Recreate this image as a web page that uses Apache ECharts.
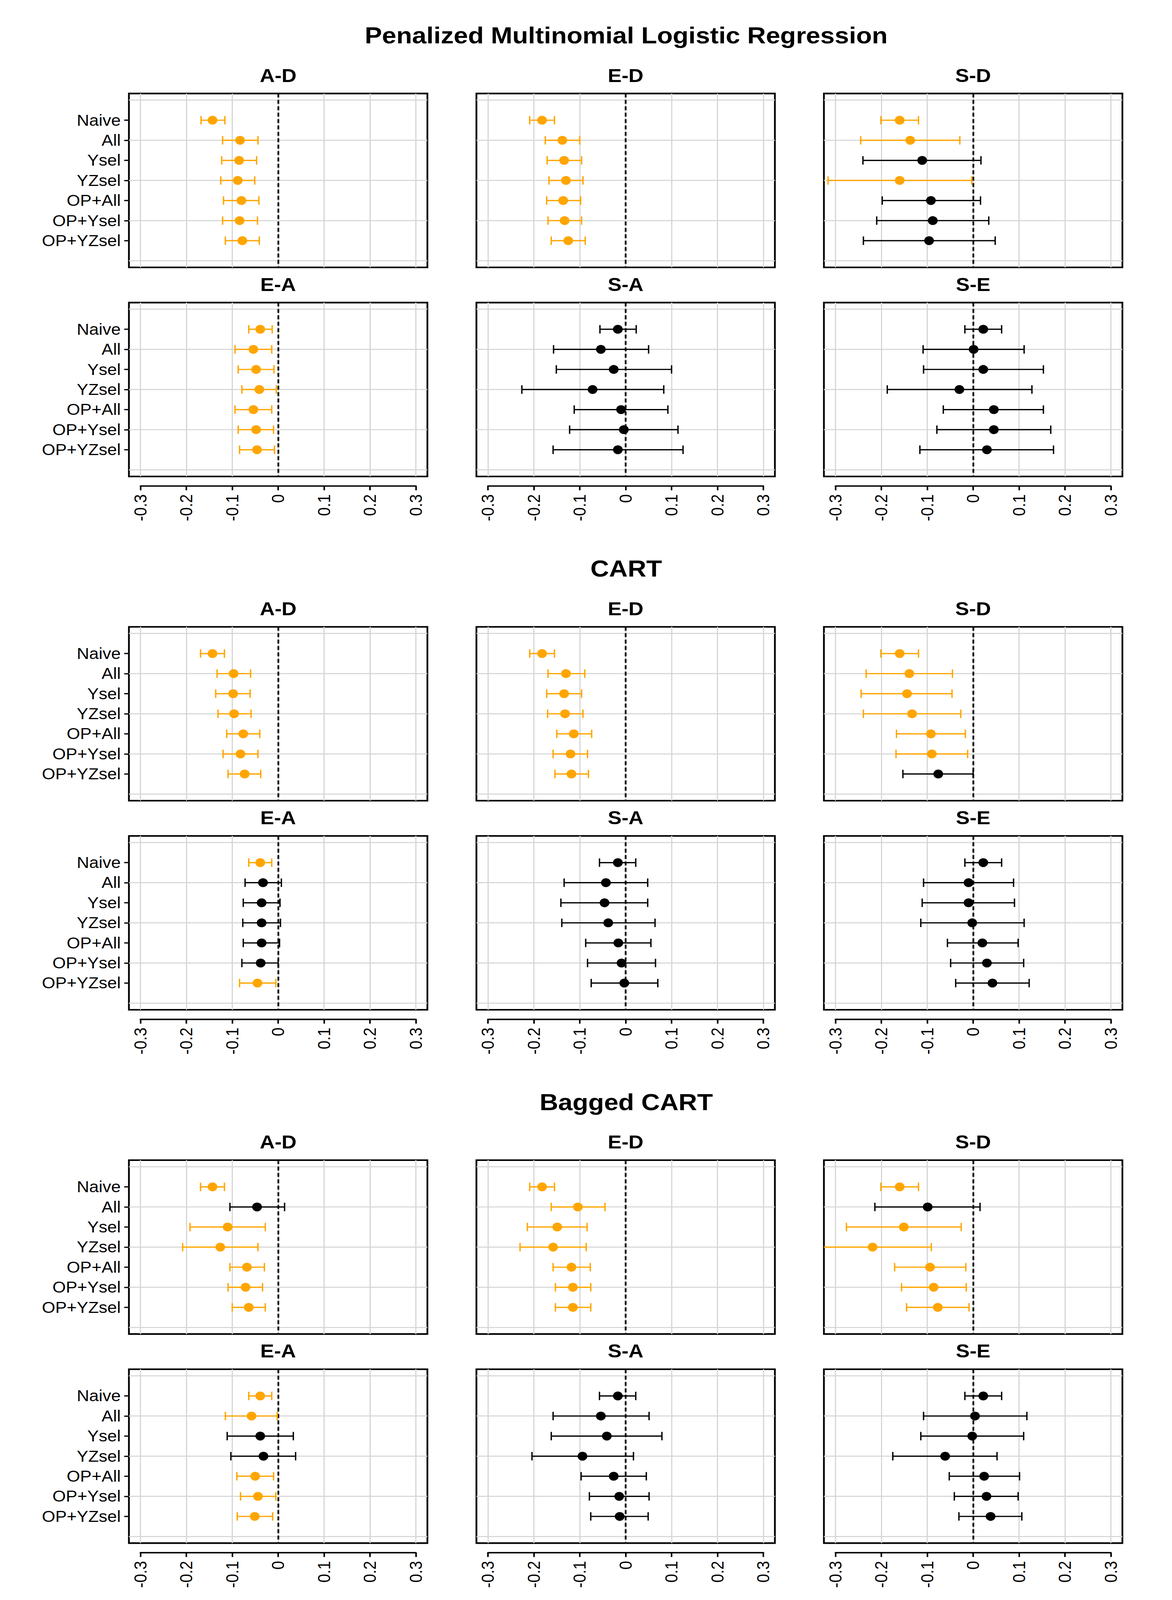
<!DOCTYPE html>
<html>
<head>
<meta charset="utf-8">
<title>Estimator comparison</title>
<script src="https://cdn.jsdelivr.net/npm/echarts@6/dist/echarts.min.js"></script>
<style>
  html, body { margin: 0; padding: 0; background: #fff; overflow: hidden; }
  #main { width: 3000px; height: 4500px; transform-origin: 0 0; }
</style>
</head>
<body>
<div id="main"></div>
<script>
// categories
var methods = ['Penalized Multinomial Logistic Regression', 'CART', 'Bagged CART'];
var contrasts = ['A-D', 'E-D', 'S-D', 'E-A', 'S-A', 'S-E'];
var estimators = ['Naive', 'All', 'Ysel', 'YZsel', 'OP+All', 'OP+Ysel', 'OP+YZsel'];
var xTicks = [-0.3, -0.2, -0.1, 0, 0.1, 0.2, 0.3];
var yGrid = [0, 2, 4, 6, 8];

// rows: [lower, estimate, upper, significant]
// Penalized multinomial logistic regression
var pmlAD = [[-0.168,-0.143,-0.116,1],[-0.121,-0.083,-0.044,1],[-0.123,-0.085,-0.047,1],[-0.125,-0.088,-0.051,1],[-0.119,-0.080,-0.042,1],[-0.121,-0.084,-0.045,1],[-0.115,-0.078,-0.041,1]];
var pmlED = [[-0.209,-0.182,-0.155,1],[-0.175,-0.138,-0.100,1],[-0.171,-0.134,-0.096,1],[-0.167,-0.130,-0.093,1],[-0.172,-0.136,-0.098,1],[-0.169,-0.133,-0.096,1],[-0.162,-0.125,-0.088,1]];
var pmlSD = [[-0.201,-0.160,-0.119,1],[-0.245,-0.137,-0.029,1],[-0.240,-0.111,0.017,0],[-0.316,-0.160,-0.003,1],[-0.198,-0.092,0.016,0],[-0.210,-0.088,0.034,0],[-0.239,-0.096,0.048,0]];
var pmlEA = [[-0.064,-0.039,-0.013,1],[-0.094,-0.054,-0.014,1],[-0.087,-0.048,-0.009,1],[-0.079,-0.041,-0.004,1],[-0.094,-0.054,-0.014,1],[-0.087,-0.048,-0.010,1],[-0.084,-0.046,-0.008,1]];
var pmlSA = [[-0.056,-0.017,0.023,0],[-0.157,-0.054,0.050,0],[-0.151,-0.026,0.100,0],[-0.226,-0.072,0.083,0],[-0.112,-0.010,0.092,0],[-0.122,-0.004,0.114,0],[-0.158,-0.017,0.125,0]];
var pmlSE = [[-0.018,0.022,0.062,0],[-0.109,0.001,0.111,0],[-0.108,0.022,0.153,0],[-0.187,-0.030,0.128,0],[-0.065,0.045,0.153,0],[-0.079,0.045,0.169,0],[-0.116,0.030,0.175,0]];
// CART
var cartAD = [[-0.169,-0.143,-0.117,1],[-0.133,-0.097,-0.060,1],[-0.136,-0.098,-0.061,1],[-0.131,-0.096,-0.059,1],[-0.112,-0.076,-0.040,1],[-0.120,-0.082,-0.044,1],[-0.109,-0.073,-0.038,1]];
var cartED = [[-0.209,-0.182,-0.155,1],[-0.169,-0.130,-0.089,1],[-0.172,-0.134,-0.096,1],[-0.170,-0.132,-0.093,1],[-0.150,-0.113,-0.074,1],[-0.158,-0.120,-0.083,1],[-0.154,-0.118,-0.081,1]];
var cartSD = [[-0.201,-0.160,-0.119,1],[-0.233,-0.139,-0.045,1],[-0.244,-0.144,-0.046,1],[-0.239,-0.133,-0.027,1],[-0.167,-0.092,-0.017,1],[-0.168,-0.090,-0.012,1],[-0.153,-0.076,0.000,0]];
var cartEA = [[-0.064,-0.039,-0.014,1],[-0.072,-0.033,0.007,0],[-0.076,-0.036,0.004,0],[-0.077,-0.036,0.005,0],[-0.076,-0.036,0.003,0],[-0.079,-0.038,0.000,0],[-0.084,-0.045,-0.005,1]];
var cartSA = [[-0.057,-0.017,0.022,0],[-0.134,-0.043,0.048,0],[-0.141,-0.046,0.048,0],[-0.139,-0.038,0.064,0],[-0.087,-0.016,0.055,0],[-0.083,-0.009,0.065,0],[-0.075,-0.003,0.070,0]];
var cartSE = [[-0.018,0.022,0.062,0],[-0.108,-0.010,0.088,0],[-0.111,-0.010,0.090,0],[-0.114,-0.002,0.111,0],[-0.056,0.020,0.098,0],[-0.049,0.030,0.110,0],[-0.038,0.042,0.122,0]];
// Bagged CART
var bagAD = [[-0.169,-0.143,-0.117,1],[-0.105,-0.046,0.014,0],[-0.192,-0.110,-0.028,1],[-0.208,-0.126,-0.044,1],[-0.105,-0.068,-0.030,1],[-0.109,-0.071,-0.034,1],[-0.100,-0.064,-0.028,1]];
var bagED = [[-0.209,-0.182,-0.155,1],[-0.162,-0.104,-0.045,1],[-0.214,-0.149,-0.084,1],[-0.230,-0.158,-0.086,1],[-0.158,-0.118,-0.077,1],[-0.153,-0.115,-0.076,1],[-0.153,-0.115,-0.076,1]];
var bagSD = [[-0.201,-0.160,-0.119,1],[-0.214,-0.099,0.015,0],[-0.276,-0.151,-0.026,1],[-0.350,-0.219,-0.091,1],[-0.171,-0.094,-0.016,1],[-0.156,-0.086,-0.015,1],[-0.145,-0.077,-0.009,1]];
var bagEA = [[-0.064,-0.039,-0.014,1],[-0.115,-0.058,-0.002,1],[-0.111,-0.039,0.033,0],[-0.103,-0.032,0.038,0],[-0.090,-0.050,-0.010,1],[-0.082,-0.044,-0.005,1],[-0.089,-0.051,-0.012,1]];
var bagSA = [[-0.057,-0.017,0.022,0],[-0.158,-0.054,0.051,0],[-0.162,-0.041,0.079,0],[-0.204,-0.094,0.017,0],[-0.097,-0.026,0.045,0],[-0.079,-0.014,0.051,0],[-0.076,-0.013,0.049,0]];
var bagSE = [[-0.018,0.022,0.062,0],[-0.108,0.004,0.117,0],[-0.114,-0.002,0.110,0],[-0.175,-0.061,0.052,0],[-0.052,0.024,0.101,0],[-0.041,0.029,0.098,0],[-0.031,0.038,0.106,0]];

var panelData = [
    [pmlAD, pmlED, pmlSD, pmlEA, pmlSA, pmlSE],
    [cartAD, cartED, cartSD, cartEA, cartSA, cartSE],
    [bagAD, bagED, bagSD, bagEA, bagSA, bagSE]
];

// layout
var FONT = "'Liberation Sans', Arial, Helvetica, sans-serif";
var ORANGE = '#FFA500';
var colLeft = [330, 1219.5, 2109];
var panelW = 764;
var rowTop = [263, 851];
var panelH = 489;
var secStep = 1500;
var axisLineY = 1367;
var xMin = -0.325, xMax = 0.325;

function tickText(v) {
    return String(Math.round(v * 10) / 10);
}

function errorBar(params, api) {
    var y = api.value(2);
    var lo = api.coord([api.value(0), y]);
    var hi = api.coord([api.value(1), y]);
    var c1 = api.coord([api.value(0), y - 0.21])[1];
    var c2 = api.coord([api.value(0), y + 0.21])[1];
    var color = api.value(3) ? ORANGE : '#000';
    var st = { stroke: color, lineWidth: 3.5 };
    return {
        type: 'group',
        children: [
            { type: 'line', shape: { x1: lo[0], y1: lo[1], x2: hi[0], y2: hi[1] }, style: st },
            { type: 'line', shape: { x1: lo[0], y1: c1, x2: lo[0], y2: c2 }, style: st },
            { type: 'line', shape: { x1: hi[0], y1: c1, x2: hi[0], y2: c2 }, style: st }
        ]
    };
}

var grids = [], xAxes = [], yAxes = [], series = [], texts = [];

methods.forEach(function (name, s) {
    var off = s * secStep;
    texts.push({
        type: 'text',
        style: { x: 1603, y: 99 + off, text: name, font: 'bold 66px ' + FONT,
                 fill: '#000', textAlign: 'center', textVerticalAlign: 'middle' }
    });

    contrasts.forEach(function (ct, p) {
        var r = Math.floor(p / 3), c = p % 3;
        var g = grids.length;
        var top = rowTop[r] + off;
        grids.push({
            left: colLeft[c], top: top, width: panelW, height: panelH,
            show: true, borderColor: '#000', borderWidth: 4.5, backgroundColor: '#fff'
        });
        xAxes.push({
            gridIndex: g, type: 'value', min: xMin, max: xMax,
            axisLine: { show: false }, axisTick: { show: false },
            axisLabel: { show: false }, splitLine: { show: false }
        });
        yAxes.push({
            gridIndex: g, type: 'value', inverse: true, min: -0.33, max: 8.33,
            axisLine: { show: false, onZero: false },
            splitLine: { show: false },
            axisTick: { show: c === 0, customValues: [1, 2, 3, 4, 5, 6, 7], length: 12,
                        lineStyle: { color: '#000', width: 3.5 } },
            axisLabel: { show: c === 0, customValues: [1, 2, 3, 4, 5, 6, 7], margin: 21,
                         fontSize: 44, fontFamily: FONT, color: '#000',
                         formatter: function (v) { return estimators[Math.round(v) - 1] || ''; } }
        });
        texts.push({
            type: 'text',
            style: { x: colLeft[c] + panelW / 2, y: top - 51, text: ct, font: 'bold 53px ' + FONT,
                     fill: '#000', textAlign: 'center', textVerticalAlign: 'middle' }
        });

        var rows = panelData[s][p];
        var lines = xTicks.map(function (v) { return { xAxis: v }; })
            .concat(yGrid.map(function (v) { return { yAxis: v }; }));

        // grid lines, under everything
        series.push({
            type: 'line', xAxisIndex: g, yAxisIndex: g, data: [], silent: true, z: 1,
            markLine: {
                z: 1, silent: true, symbol: 'none', animation: false,
                label: { show: false },
                lineStyle: { color: '#d6d6d6', width: 3, type: 'solid' },
                emphasis: { disabled: true },
                data: lines
            }
        });
        // dashed reference line at zero
        series.push({
            type: 'line', xAxisIndex: g, yAxisIndex: g, data: [], silent: true, z: 2,
            markLine: {
                z: 2, silent: true, symbol: 'none', animation: false,
                label: { show: false },
                lineStyle: { color: '#000', type: [11, 7], width: 4.5 },
                emphasis: { disabled: true },
                data: [{ xAxis: 0 }]
            }
        });
        series.push({
            type: 'custom', xAxisIndex: g, yAxisIndex: g, clip: true, z: 3, silent: true,
            data: rows.map(function (d, i) { return [d[0], d[2], i + 1, d[3]]; }),
            renderItem: errorBar
        });
        series.push({
            type: 'scatter', xAxisIndex: g, yAxisIndex: g, z: 4, silent: true,
            symbolSize: 25,
            data: rows.map(function (d, i) { return [d[1], i + 1, d[3]]; }),
            itemStyle: { opacity: 1, color: function (pt) { return pt.data[2] ? ORANGE : '#000'; } }
        });
    });

    // separate x axis under each column of the section
    colLeft.forEach(function (left) {
        var g = grids.length;
        var unit = panelW / (xMax - xMin);
        grids.push({
            left: left + (-0.3 - xMin) * unit, width: 0.6 * unit,
            top: axisLineY + off - 10, height: 10, show: false
        });
        xAxes.push({
            gridIndex: g, type: 'value', min: -0.3, max: 0.3, interval: 0.1,
            axisLine: { show: true, onZero: false, lineStyle: { color: '#000', width: 4 } },
            axisTick: { show: true, length: 12, lineStyle: { color: '#000', width: 4 } },
            splitLine: { show: false },
            axisLabel: { rotate: 90, margin: 23, fontSize: 44, fontFamily: FONT, color: '#000',
                         formatter: tickText }
        });
        yAxes.push({ gridIndex: g, type: 'value', min: 0, max: 1, show: false });
    });
});

// the window may be shorter than the 4500px figure: squeeze it to fit
var box = document.getElementById('main');
var fit = Math.min(1, (window.innerHeight || 4500) / 4500);
box.style.transform = 'scale(1,' + fit + ')';

var chart = echarts.init(box, null, { renderer: 'svg' });
chart.setOption({
    animation: false,
    backgroundColor: '#fff',
    grid: grids,
    xAxis: xAxes,
    yAxis: yAxes,
    series: series,
    graphic: texts
});
</script>
</body>
</html>
